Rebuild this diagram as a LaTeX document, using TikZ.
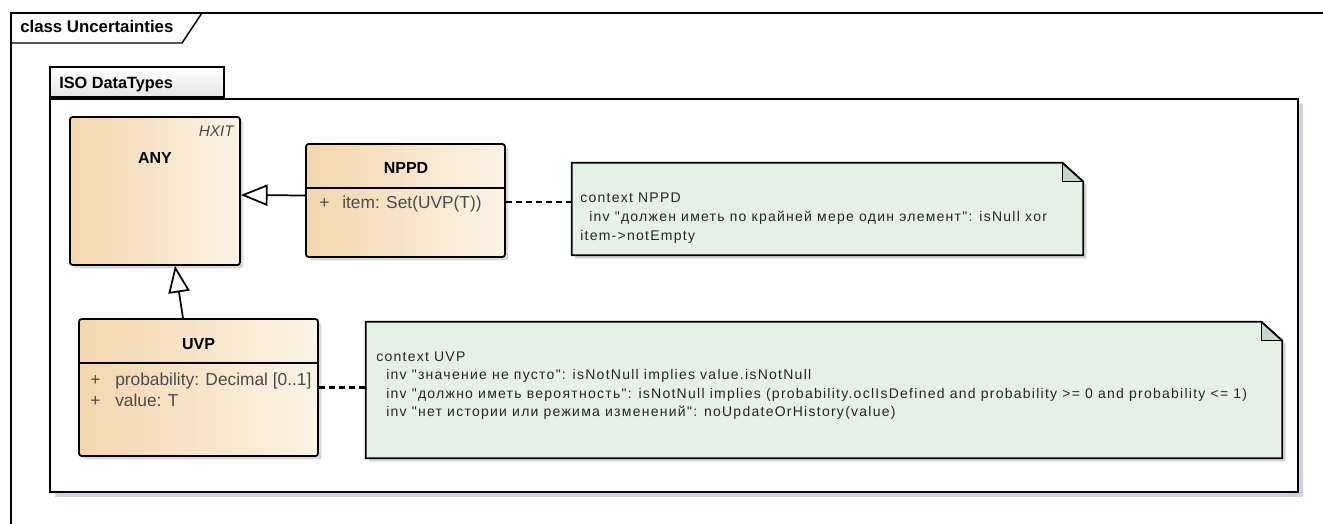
\documentclass[tikz,border=0pt]{standalone}
\usepackage{fontspec}
\setmainfont{Liberation Sans}
\newfontfamily\notefont[LetterSpace=9]{Liberation Sans}
\usetikzlibrary{arrows.meta,shadows,calc}

\definecolor{classleft}{RGB}{243,214,173}
\definecolor{classright}{RGB}{252,243,230}
\definecolor{notefill}{RGB}{228,242,230}
\definecolor{foldfill}{RGB}{198,214,204}
\definecolor{attrgray}{RGB}{75,75,75}
\definecolor{pkgshadow}{RGB}{196,198,222}
\definecolor{tabfill}{RGB}{228,228,228}

\tikzstyle{umlclass}=[draw,line width=1.3pt,rounded corners=2pt,left color=classleft,right color=classright,
    drop shadow={shadow xshift=2.5pt,shadow yshift=-2.5pt,fill=black,opacity=0.15},inner sep=0pt]
\tikzstyle{divider}=[draw,line width=1.1pt]
\tikzstyle{classname}=[font=\fontsize{12}{14}\selectfont\bfseries,inner sep=0pt,anchor=base]
\tikzstyle{stereo}=[font=\fontsize{11.5}{14}\selectfont\itshape,text=attrgray,inner sep=0pt,anchor=base east]
\tikzstyle{attr}=[font=\fontsize{13}{15}\selectfont,text=attrgray,inner sep=0pt,anchor=base west]
\tikzstyle{notebody}=[draw,line width=1.3pt,fill=notefill,
    drop shadow={shadow xshift=2.5pt,shadow yshift=-2.5pt,fill=black,opacity=0.15}]
\tikzstyle{notefold}=[draw,line width=0.8pt,fill=foldfill]
\tikzstyle{notetext}=[font=\notefont\fontsize{10.5}{14}\selectfont,text=black!85,inner sep=0pt,anchor=base west]
\tikzstyle{gen}=[draw,line width=1.3pt,-{Triangle[open,length=20pt,width=16pt,fill=white]}]
\tikzstyle{anchorline}=[draw,line width=1.6pt,dash pattern=on 4.5pt off 3pt]
\tikzstyle{frameline}=[draw,line width=1.1pt]
\tikzstyle{framename}=[font=\fontsize{12.6}{15}\selectfont\bfseries,inner sep=0pt,anchor=base west]
\newcommand{\pxunit}{0.75pt}

\begin{document}
\begin{tikzpicture}[x=\pxunit, y=-\pxunit]
    \useasboundingbox (0,0) rectangle (1323,524);
    % Outer diagram frame and its title
    \draw[frameline] (11,524) -- (11,13) -- (1323,13);
    \draw[frameline] (11,43) -- (182,43) -- (202,13);
    \node[framename] (title) at (20,33) {class Uncertainties};
    % Package with its tab
    \node[draw,line width=1.3pt,fill=white,minimum width=1248*\pxunit,minimum height=393*\pxunit,
        drop shadow={shadow xshift=3.5pt,shadow yshift=-3.5pt,fill=pkgshadow,opacity=0.8}] (pkg) at (674,295.5) {};
    \node[draw,line width=1.3pt,top color=white,bottom color=tabfill,anchor=south west,
        minimum width=174*\pxunit,minimum height=30*\pxunit] (pkgtab) at (pkg.north west) {};
    \node[framename,font=\fontsize{12.2}{15}\selectfont\bfseries] (pkgname) at (59,89) {ISO DataTypes};
    % Classes
    \node[umlclass,minimum width=170*\pxunit,minimum height=148*\pxunit] (ANY) at (155,191) {};
    \node[umlclass,minimum width=199*\pxunit,minimum height=113*\pxunit] (NPPD) at (405.5,200.5) {};
    \node[umlclass,minimum width=239*\pxunit,minimum height=137*\pxunit] (UVP) at (198.5,387.5) {};
    \draw[divider] (NPPD.west |- 0,188) -- (NPPD.east |- 0,188);
    \draw[divider] (UVP.west |- 0,363) -- (UVP.east |- 0,363);
    \node[classname] (anyname) at (155,163) {ANY};
    \node[stereo] (anystereo) at (234,137) {HXIT};
    \node[classname] (nppdname) at (406,173) {NPPD};
    \node[classname] (uvpname) at (198.5,349) {UVP};
    % Attributes
    \foreach \px/\tx/\y/\name/\txt in {319/342/208/nppdattr/{item: Set(UVP(T))},
                                       90/115/385/uvpprob/{probability: Decimal [0..1]},
                                       90/115/406/uvpvalue/{value: T}}{
        \node[attr] (\name plus) at (\px,\y) {+};
        \node[attr] (\name) at (\tx,\y) {\txt};
    }
    % Notes with folded corner
    \node[minimum width=511*\pxunit,minimum height=92*\pxunit] (nppdnote) at (827.5,209) {};
    \node[minimum width=916*\pxunit,minimum height=136*\pxunit] (uvpnote) at (824,390) {};
    \foreach \n in {nppdnote,uvpnote}{
        \path[notebody] (\n.south west) -- (\n.north west) -- ($(\n.north east)+(-21,0)$)
            -- ($(\n.north east)+(0,19)$) -- (\n.south east) -- cycle;
        \path[notefold] ($(\n.north east)+(-21,0)$) -- ($(\n.north east)+(-21,19)$)
            -- ($(\n.north east)+(0,19)$);
        \draw[line width=1.3pt] ($(\n.north east)+(-21,0)$) -- ($(\n.north east)+(0,19)$);
    }
    \node[notetext] (nppdl1) at (580,202) {context NPPD};
    \node[notetext] (nppdl2) at (589,221) {inv "должен иметь по крайней мере один элемент": isNull xor};
    \node[notetext] (nppdl3) at (580,240) {item->notEmpty};
    \node[notetext] (uvpl1) at (376,361) {context UVP};
    \node[notetext] (uvpl2) at (386,379.5) {inv "значение не пусто": isNotNull implies value.isNotNull};
    \node[notetext] (uvpl3) at (386,398) {inv "должно иметь вероятность": isNotNull implies (probability.oclIsDefined and probability >= 0 and probability <= 1)};
    \node[notetext] (uvpl4) at (386,416.5) {inv "нет истории или режима изменений": noUpdateOrHistory(value)};
    % Connectors
    \draw[gen] ($(NPPD.west)+(0,-5)$) -- ($(ANY.east)+(0,4)$);
    \draw[gen] ($(UVP.north)+(-15.5,0)$) -- ($(ANY.south)+(20,0)$);
    \draw[anchorline] (NPPD.east |- 0,202) -- (nppdnote.west |- 0,202);
    \draw[anchorline] (UVP.east) -- (uvpnote.west |- UVP.east);
\end{tikzpicture}
\end{document}
